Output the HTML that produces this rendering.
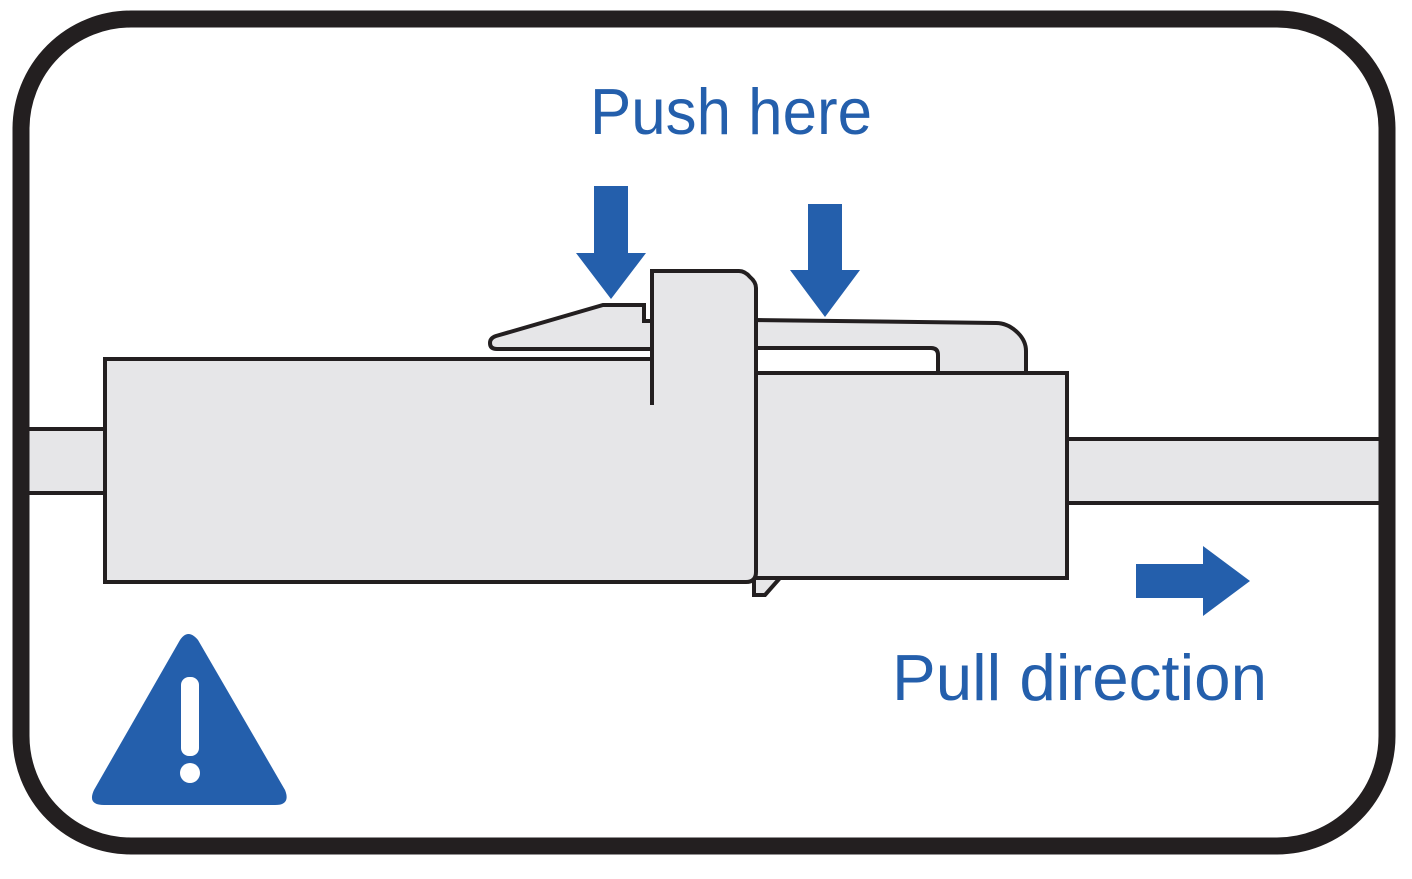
<!DOCTYPE html>
<html><head><meta charset="utf-8"><style>
html,body{margin:0;padding:0;background:#fff;width:1412px;height:879px;overflow:hidden}
svg{display:block}
text{font-family:"Liberation Sans",sans-serif;fill:#245fac;font-size:65px}
</style></head><body>
<svg width="1412" height="879" viewBox="0 0 1412 879" xmlns="http://www.w3.org/2000/svg">
<rect width="1412" height="879" fill="#fff"/>
<g stroke="#231f20" stroke-width="4" fill="#e6e6e8">
<!-- cables -->
<path d="M28 429H104V493H28Z" stroke="none"/>
<path d="M28 429H104M28 493H104" fill="none"/>
<path d="M1067 439H1382V503H1067Z" stroke="none"/>
<path d="M1067 439H1382M1067 503H1382" fill="none"/>
<!-- bottom tab -->
<path d="M754 578V595H765L780 578Z"/>
<!-- right latch -->
<path d="M756 320L996 323Q1008 323 1018 333Q1026 341 1026 351V373H938V355Q938 348 931 348H756Z"/>
<!-- right body -->
<path d="M756 373H1067V578H752Z"/>
<!-- left latch -->
<path d="M652 321H644V305H603L496 336Q490 338 490 343Q490 349 497 349H652Z"/>
<!-- left body fill -->
<path d="M105 359H652V271H739Q745 271 750 277Q756 282 756 288V572Q756 582 746 582H105Z" stroke="none"/>
<!-- left body outline -->
<path d="M652 359H105V582H746Q756 582 756 572V288Q756 282 750 277Q745 271 739 271H652V405" fill="none"/>
</g>
<!-- frame -->
<rect x="21" y="19" width="1366" height="827" rx="110" ry="110" fill="none" stroke="#231f20" stroke-width="17"/>
<!-- arrows -->
<g fill="#245fac">
<path d="M594 186H628V253H646L611 299L576 253H594Z"/>
<path d="M808 204H842V270H860L825 317L790 270H808Z"/>
<path d="M1136 564H1203V546L1250 581L1203 616V598H1136Z"/>
<path d="M180 640Q188 628 198 640L285 790Q291 805 275 805H104Q87 805 94 790Z"/>
</g>
<rect x="181" y="677" width="18" height="79" rx="8" fill="#fff"/>
<circle cx="190" cy="773" r="10" fill="#fff"/>
<text x="590" y="134" textLength="282" lengthAdjust="spacingAndGlyphs">Push here</text>
<text x="892" y="700" textLength="375" lengthAdjust="spacingAndGlyphs">Pull direction</text>
</svg>
</body></html>
